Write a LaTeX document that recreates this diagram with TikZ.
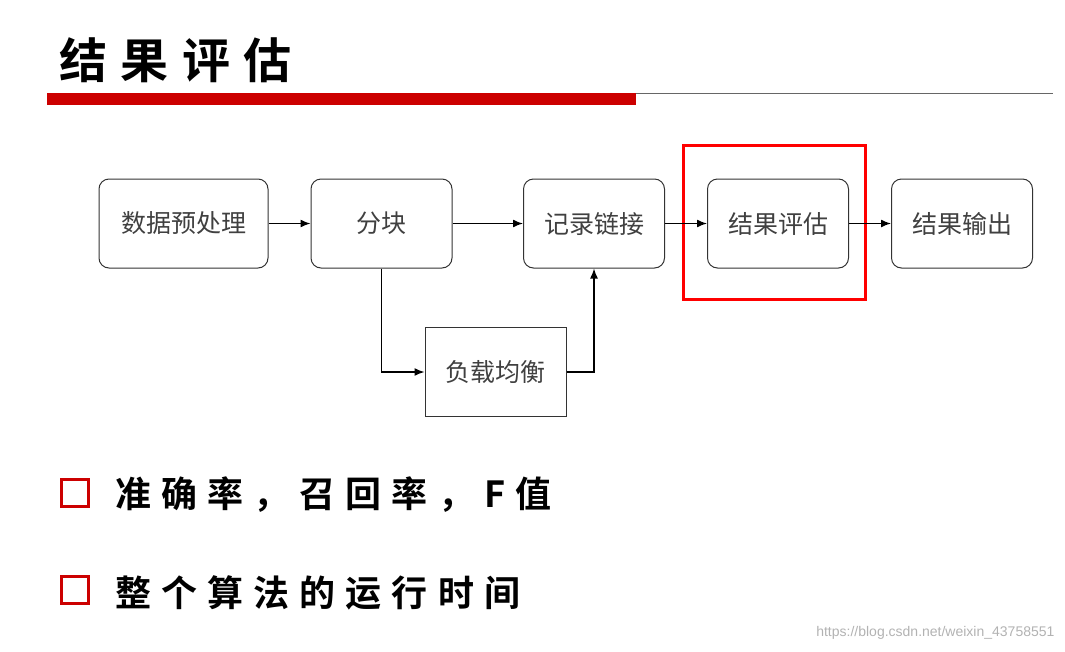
\documentclass[tikz,border=0pt]{standalone}
\usepackage{fontspec}
\setmainfont{Liberation Sans}
\newfontfamily\cjk{Noto Sans CJK SC}
\newfontfamily\cjkb[LetterSpace=28]{Noto Sans CJK SC Bold}
\usetikzlibrary{arrows.meta,positioning}

\tikzset{
    stage/.style={draw=black!80, line width=1pt, rounded corners=10pt, minimum width=141pt, minimum height=89pt, font=\cjk\fontsize{25}{25}\selectfont, text=black!75},
    plain/.style={stage, rounded corners=0pt},
    flow/.style={-{Latex[length=10pt,width=8pt]}, line width=1.4pt},
    bullet/.style={draw=red!80!black, line width=3pt, minimum size=27pt, inner sep=0pt},
    point/.style={font=\cjkb\fontsize{36}{36}\selectfont, anchor=west}
}

\begin{document}
\begin{tikzpicture}[x=1pt,y=-1pt]
\useasboundingbox (0,0) rectangle (1065,651);

% title
\node[anchor=west, font=\cjkb\fontsize{48}{48}\selectfont] (title) at (56,60) {结果评估};
\fill[red!80!black] (47,93) rectangle (636,105);
\draw[black!60] (636,93) -- (1053,93);

% stages
\node[stage, minimum width=169pt] (pre) at (183.5,223.5) {数据预处理};
\node[stage] (block) at (381.5,223.5) {分块};
\node[stage] (link) at (594,223.5) {记录链接};
\node[stage] (eval) at (778,223.5) {结果评估};
\node[stage] (out) at (962,223.5) {结果输出};
\node[plain] (load) at (495.5,372) {负载均衡};

\draw[red, line width=3pt] (683,145) rectangle (865,299);

\draw[flow] (pre) -- (block);
\draw[flow] (block) -- (link);
\draw[flow] (link) -- (eval);
\draw[flow] (eval) -- (out);
\draw[flow] (block.south) |- (load.west);
\draw[flow] (load.east) -| (link.south);

% points
\node[bullet] (b1) at (75,493) {};
\node[point] (p1) at (112,495) {准确率，召回率，F值};
\node[bullet] (b2) at (75,590) {};
\node[point] (p2) at (112,593) {整个算法的运行时间};

\node[anchor=east, text=black!30, font=\fontsize{14}{14}\selectfont] (mark) at (1058,633) {https://blog.csdn.net/weixin\_43758551};
\end{tikzpicture}
\end{document}
